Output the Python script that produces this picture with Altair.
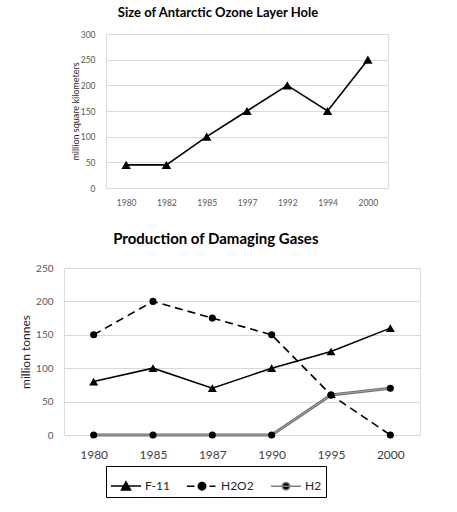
import altair as alt
import pandas as pd

# Size of the Antarctic ozone hole (million square kilometres)
hole_years = ["1980", "1982", "1985", "1997", "1992", "1994", "2000"]
hole_size = [45, 45, 100, 150, 200, 150, 250]

# Production of damaging gases (million tonnes)
gas_years = ["1980", "1985", "1987", "1990", "1995", "2000"]
f11 = [80, 100, 70, 100, 125, 160]
h2o2 = [150, 200, 175, 150, 60, 0]
h2 = [0, 0, 0, 0, 60, 70]
gases = ["F-11", "H2O2", "H2"]

FONT = "Lato"
GRID = "#d9d9d9"
LABEL = "#595959"

hole_df = pd.DataFrame({"year": hole_years, "size": hole_size})
gas_df = pd.DataFrame({
    "year": gas_years * 3,
    "value": f11 + h2o2 + h2,
    "gas": [g for g in gases for _ in gas_years],
})

# ---- top panel -------------------------------------------------------------
top_base = alt.Chart(hole_df).encode(
    x=alt.X("year:O", sort=hole_years, title=None,
            axis=alt.Axis(labelAngle=0, domain=False, ticks=False, tickSize=0,
                          labelFontSize=8.5, labelColor=LABEL, labelPadding=10,
                          labelFont=FONT)),
    y=alt.Y("size:Q", scale=alt.Scale(domain=[0, 300]),
            title="million square kilometers",
            axis=alt.Axis(values=[0, 50, 100, 150, 200, 250, 300],
                          domain=False, ticks=False, tickSize=0,
                          gridColor=GRID, labelFontSize=8.5, labelColor=LABEL,
                          labelPadding=11, labelFont=FONT, titleFont=FONT,
                          titleFontSize=9, titleFontWeight="normal",
                          titleColor="#262626", titlePadding=0)),
)
top = alt.layer(
    top_base.mark_line(color="black", strokeWidth=1.6),
    top_base.mark_point(shape="triangle-up", filled=True, color="black",
                        size=90, opacity=1),
).properties(
    width=282, height=154,
    title=alt.TitleParams("Size of Antarctic Ozone Layer Hole", font=FONT,
                          fontSize=13, fontWeight="bold", color="black",
                          offset=10, frame="group", dx=-29),
)

# empty block that indents the upper panel
indent = alt.Chart(hole_df).mark_point(opacity=0).properties(width=5, height=154)

# ---- bottom panel ----------------------------------------------------------
gx = alt.X("year:O", sort=gas_years, title=None,
           axis=alt.Axis(labelAngle=0, domain=False, ticks=False, tickSize=0,
                         labelFontSize=12, labelColor="#404040", labelPadding=14,
                         labelFont=FONT))
gy = alt.Y("value:Q", scale=alt.Scale(domain=[0, 250]), title="million tonnes",
           axis=alt.Axis(values=[0, 50, 100, 150, 200, 250], domain=False,
                         ticks=False, tickSize=0, gridColor=GRID,
                         labelFontSize=10, labelColor=LABEL, labelPadding=11,
                         labelFont=FONT, titleFont=FONT, titleFontSize=12,
                         titleFontWeight="normal", titleColor="#262626",
                         titlePadding=3))
gbase = alt.Chart(gas_df).encode(x=gx, y=gy)


def only(name):
    return gbase.transform_filter(alt.datum.gas == name)


f11_line = only("F-11").mark_line(color="black", strokeWidth=1.6)
f11_pts = only("F-11").mark_point(shape="triangle-up", filled=True,
                                  color="black", size=80, opacity=1)
h2o2_line = only("H2O2").mark_line(color="black", strokeWidth=1.6,
                                   strokeDash=[8, 5])
h2o2_pts = only("H2O2").mark_point(shape="circle", filled=True,
                                   color="black", size=50, opacity=1)
h2_outer = only("H2").mark_line(color="#6f6f6f", strokeWidth=3)
h2_inner = only("H2").mark_line(color="#a6a6a6", strokeWidth=1)
h2_pts = only("H2").mark_point(shape="circle", filled=True,
                               color="black", size=50, opacity=1)

# legend glyphs: a short line with the series marker in its middle
glyph_f11 = "M-1,0L1,0M-0.3,0.26L0,-0.28L0.3,0.26Z"
glyph_h2o2 = ("M-1,0L-0.5,0M0.5,0L0.9,0"
              "M-0.25,0A0.25,0.25,0,1,0,0.25,0A0.25,0.25,0,1,0,-0.25,0Z")
glyph_h2 = ("M-1,0L1,0"
            "M-0.25,0A0.25,0.25,0,1,0,0.25,0A0.25,0.25,0,1,0,-0.25,0Z")

key = alt.Legend(title=None, orient="none", legendX=42, legendY=198,
                 direction="horizontal", columns=3, strokeColor="black",
                 padding=4, columnPadding=14, symbolSize=900,
                 symbolStrokeWidth=1.5, symbolOpacity=1,
                 labelFont=FONT, labelFontSize=12, labelColor="#262626",
                 labelOffset=3)
legend_layer = gbase.mark_point(filled=True, color="black", opacity=0).encode(
    shape=alt.Shape("gas:N", scale=alt.Scale(domain=gases,
                    range=[glyph_f11, glyph_h2o2, glyph_h2]), legend=key),
    stroke=alt.Stroke("gas:N", scale=alt.Scale(domain=gases,
                      range=["black", "black", "#7f7f7f"]), legend=key),
)

bottom = alt.layer(
    h2o2_line, h2_outer, h2_inner, f11_line,
    f11_pts, h2o2_pts, h2_pts, legend_layer,
).properties(
    width=356, height=167,
    title=alt.TitleParams("Production of Damaging Gases", font=FONT,
                          fontSize=15, fontWeight="bold", color="black",
                          offset=16, frame="bounds", dx=-4),
)

chart = alt.vconcat(
    alt.hconcat(indent, top, spacing=0), bottom, spacing=24
).resolve_scale(
    shape="independent", stroke="independent"
).resolve_legend(
    shape="independent", stroke="independent"
).properties(
    padding={"left": 19, "top": 6, "right": 10, "bottom": 10}
).configure_view(stroke=None).configure(background="white")

chart.save("out.html", embed_options={"renderer": "svg", "actions": False})
